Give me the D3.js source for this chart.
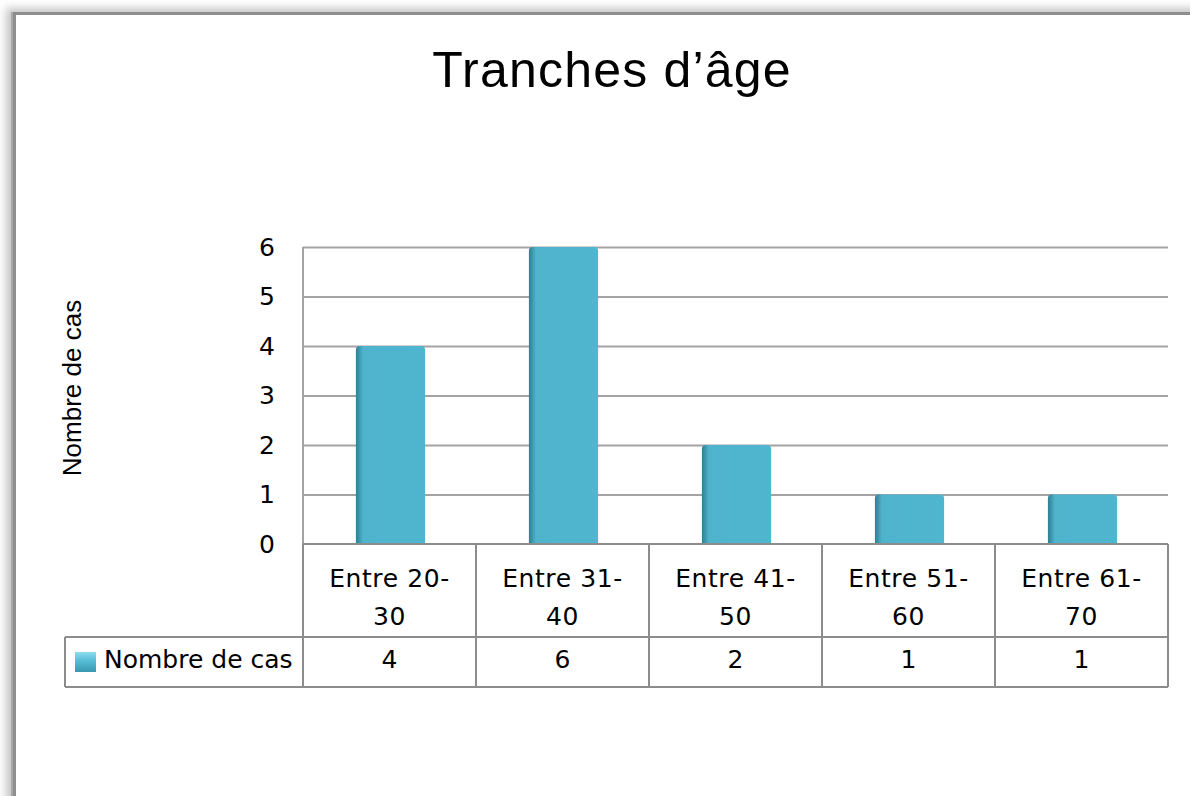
<!DOCTYPE html>
<html>
<head>
<meta charset="utf-8">
<script src="https://cdn.jsdelivr.net/npm/d3@7"></script>
<style>
  html, body { margin: 0; padding: 0; background: #fff; }
  svg { display: block; }
</style>
</head>
<body>
<script>
// Data
const categories = ["Entre 20-30", "Entre 31-40", "Entre 41-50", "Entre 51-60", "Entre 61-70"];
const categoryLines = [["Entre 20-", "30"], ["Entre 31-", "40"], ["Entre 41-", "50"], ["Entre 51-", "60"], ["Entre 61-", "70"]];
const values = [4, 6, 2, 1, 1];
const yTicks = [0, 1, 2, 3, 4, 5, 6];
const seriesName = "Nombre de cas";
const chartTitle = "Tranches d\u2019\u00e2ge";
const yTitle = "Nombre de cas";

const W = 1190, H = 796;
const plot = { left: 303, right: 1168, top: 247, bottom: 544 };
const table = { legendLeft: 65, catBottom: 637, valBottom: 687 };

const svg = d3.select("body").append("svg").attr("width", W).attr("height", H);
const defs = svg.append("defs");

// soft shadow for the outer frame
const blur = defs.append("filter").attr("id", "frameBlur")
  .attr("x", "-10%").attr("y", "-10%").attr("width", "120%").attr("height", "120%");
blur.append("feGaussianBlur").attr("stdDeviation", 4);

const barGrad = defs.append("linearGradient").attr("id", "barGrad")
  .attr("x1", 0).attr("x2", 1).attr("y1", 0).attr("y2", 0);
barGrad.append("stop").attr("offset", "0%").attr("stop-color", "#2f7f93");
barGrad.append("stop").attr("offset", "5%").attr("stop-color", "#3d97ad");
barGrad.append("stop").attr("offset", "10%").attr("stop-color", "#4fb3cc");
barGrad.append("stop").attr("offset", "100%").attr("stop-color", "#4fb6cf");

const keyGrad = defs.append("linearGradient").attr("id", "keyGrad")
  .attr("x1", 0).attr("x2", 0).attr("y1", 0).attr("y2", 1);
keyGrad.append("stop").attr("offset", "0%").attr("stop-color", "#8fdcef");
keyGrad.append("stop").attr("offset", "45%").attr("stop-color", "#55bcd5");
keyGrad.append("stop").attr("offset", "100%").attr("stop-color", "#3a98b0");

// Outer frame with shadow
svg.append("rect").attr("x", 6).attr("y", 8).attr("width", W + 20).attr("height", H + 20)
  .attr("fill", "#c4c4c4").attr("filter", "url(#frameBlur)");
svg.append("rect").attr("x", 11).attr("y", 12).attr("width", W + 20).attr("height", H + 20)
  .attr("fill", "#a8a8a8");
svg.append("rect").attr("x", 13).attr("y", 12).attr("width", W + 20).attr("height", H + 20)
  .attr("fill", "#8e8e8e");
svg.append("rect").attr("x", 16).attr("y", 15).attr("width", W + 20).attr("height", H + 20)
  .attr("fill", "#ffffff");

// Scales
const x = d3.scaleBand().domain(categories).range([plot.left, plot.right]).paddingInner(0).paddingOuter(0);
const y = d3.scaleLinear().domain([0, 6]).range([plot.bottom, plot.top]);

// Title
svg.append("text").attr("x", 612).attr("y", 87).attr("text-anchor", "middle")
  .attr("font-family", "'Liberation Sans', Arial, sans-serif").attr("font-size", 50)
  .attr("letter-spacing", 1.2).attr("fill", "#000").text(chartTitle);

// Gridlines
const grid = svg.append("g").attr("transform", `translate(${plot.left},0)`)
  .call(d3.axisLeft(y).tickValues(yTicks.filter(d => d > 0)).tickSize(-(plot.right - plot.left)).tickFormat(""));
grid.select(".domain").remove();
grid.selectAll(".tick line").attr("stroke", "#a3a3a3").attr("stroke-width", 2);

// Left edge of plot area
svg.append("line").attr("x1", plot.left).attr("x2", plot.left).attr("y1", y(6)).attr("y2", y(0))
  .attr("stroke", "#a3a3a3").attr("stroke-width", 2);

// Y tick labels
const yAxis = svg.append("g").attr("transform", `translate(${plot.left - 28},0)`)
  .call(d3.axisLeft(y).tickValues(yTicks).tickSize(0).tickPadding(0).tickFormat(d3.format("d")));
yAxis.select(".domain").remove();
yAxis.selectAll("text").attr("font-family", "'DejaVu Sans', Verdana, sans-serif")
  .attr("font-size", 25).attr("fill", "#000");

// Y axis title
svg.append("text").attr("transform", `translate(81,388) rotate(-90)`).attr("text-anchor", "middle")
  .attr("font-family", "'Liberation Sans', Arial, sans-serif").attr("font-size", 26)
  .attr("fill", "#000").text(yTitle);

// Bars with rounded tops
const bw = x.bandwidth() * 0.4;
const r = 4;
svg.append("g").selectAll("path").data(values).join("path")
  .attr("d", (v, i) => {
    const cx = x(categories[i]) + x.bandwidth() / 2 + 1;
    const x0 = cx - bw / 2, x1 = cx + bw / 2, yt = y(v), yb = y(0);
    return `M${x0},${yb}L${x0},${yt + r}Q${x0},${yt} ${x0 + r},${yt}L${x1 - r},${yt}Q${x1},${yt} ${x1},${yt + r}L${x1},${yb}Z`;
  })
  .attr("fill", "url(#barGrad)");

// Data table
const tbl = svg.append("g").attr("fill", "none").attr("stroke", "#8c8c8c").attr("stroke-width", 2);
tbl.append("line").attr("x1", plot.left).attr("x2", plot.right).attr("y1", plot.bottom).attr("y2", plot.bottom);
tbl.append("line").attr("x1", table.legendLeft).attr("x2", plot.right).attr("y1", table.catBottom).attr("y2", table.catBottom);
tbl.append("line").attr("x1", table.legendLeft).attr("x2", plot.right).attr("y1", table.valBottom).attr("y2", table.valBottom);
tbl.append("line").attr("x1", table.legendLeft).attr("x2", table.legendLeft).attr("y1", table.catBottom).attr("y2", table.valBottom);
const colEdges = categories.map(c => x(c)).concat([plot.right]);
tbl.selectAll("line.col").data(colEdges).join("line").attr("class", "col")
  .attr("x1", d => d).attr("x2", d => d).attr("y1", plot.bottom).attr("y2", table.valBottom);

const tableFont = "'DejaVu Sans', Verdana, sans-serif";
const catText = svg.append("g").attr("font-family", tableFont).attr("font-size", 25)
  .attr("text-anchor", "middle").attr("fill", "#000");
categories.forEach((c, i) => {
  const cx = x(c) + x.bandwidth() / 2;
  categoryLines[i].forEach((line, j) => {
    catText.append("text").attr("x", cx).attr("y", 587 + j * 38).attr("letter-spacing", 0.6).text(line);
  });
});

// value row
svg.append("g").attr("font-family", tableFont).attr("font-size", 25)
  .attr("text-anchor", "middle").attr("fill", "#000")
  .selectAll("text").data(values).join("text")
  .attr("x", (v, i) => x(categories[i]) + x.bandwidth() / 2)
  .attr("y", 668).text(d => d);

// legend key and series name
svg.append("rect").attr("x", 75).attr("y", 652).attr("width", 21).attr("height", 20)
  .attr("fill", "url(#keyGrad)");
svg.append("text").attr("x", 104).attr("y", 668).attr("font-family", tableFont)
  .attr("font-size", 25).attr("fill", "#000").text(seriesName);
</script>
</body>
</html>
